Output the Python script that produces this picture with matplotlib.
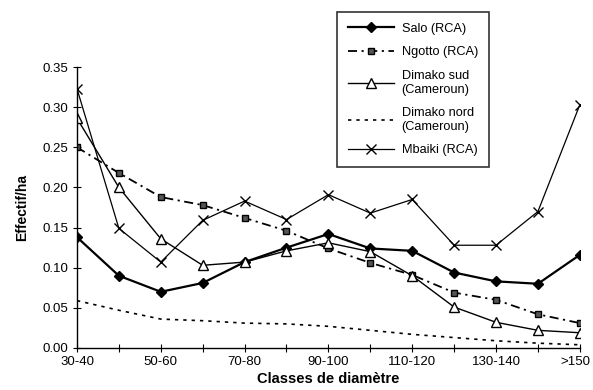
import numpy as np
import matplotlib.pyplot as plt
from matplotlib.transforms import ScaledTranslation

plt.rcParams['font.family'] = ['Liberation Sans', 'DejaVu Sans']

classes = ["30-40", "40-50", "50-60", "60-70", "70-80", "80-90", "90-100",
           "100-110", "110-120", "120-130", "130-140", "140-150", ">150"]
shown_labels = ["30-40", "", "50-60", "", "70-80", "", "90-100",
                "", "110-120", "", "130-140", "", ">150"]

salo = [0.138, 0.090, 0.070, 0.081, 0.107, 0.125, 0.142, 0.124, 0.121, 0.094, 0.083, 0.080, 0.116]
ngotto = [0.250, 0.218, 0.188, 0.178, 0.162, 0.146, 0.124, 0.106, 0.091, 0.069, 0.060, 0.042, 0.031]
dimako_sud = [0.286, 0.200, 0.136, 0.103, 0.107, 0.121, 0.131, 0.120, 0.090, 0.051, 0.032, 0.022, 0.019]
dimako_nord = [0.059, 0.047, 0.036, 0.034, 0.031, 0.030, 0.027, 0.022, 0.017, 0.013, 0.009, 0.006, 0.004]
mbaiki = [0.323, 0.149, 0.107, 0.159, 0.183, 0.160, 0.191, 0.168, 0.185, 0.128, 0.128, 0.170, 0.303]

x = np.arange(len(classes))

fig = plt.figure(figsize=(5.93, 3.90), dpi=100)
ax = fig.add_axes([0.1298, 0.1077, 0.848, 0.7205])

ax.plot(x, salo, color='black', lw=1.6, marker='D', ms=5, mfc='black', label='Salo (RCA)')
ax.plot(x, ngotto, color='black', lw=1.3, ls=(0, (5, 2.5, 1.2, 2.5)), marker='s', ms=5,
        mfc='#555555', mec='black', label='Ngotto (RCA)')
ax.plot(x, dimako_sud, color='black', lw=1.0, marker='^', ms=7, mfc='white',
        label='Dimako sud\n(Cameroun)')
ax.plot(x, dimako_nord, color='black', lw=1.2, ls=(0, (2, 3)), label='Dimako nord\n(Cameroun)')
ax.plot(x, mbaiki, color='black', lw=0.9, marker='x', ms=7, mew=1.0, label='Mbaiki (RCA)')

ax.set_xlim(0, 12)
ax.set_ylim(0, 0.35)
ax.set_xticks(x)
ax.set_xticklabels(shown_labels, fontsize=9.5)
ax.set_yticks(np.arange(0, 0.351, 0.05))
ax.set_yticklabels(["%.2f" % v for v in np.arange(0, 0.351, 0.05)], fontsize=9.5)
ax.tick_params(direction='inout', length=6, width=0.8, color='black', pad=3)
for s in ['top', 'right']:
    ax.spines[s].set_visible(False)
for s in ['left', 'bottom']:
    ax.spines[s].set_linewidth(1.0)

# last label sits against the right edge: keep it inside the figure
last = ax.get_xticklabels()[-1]
last.set_horizontalalignment('right')
last.set_transform(last.get_transform() + ScaledTranslation(11 / 100, 0, fig.dpi_scale_trans))

ax.set_ylabel("Effectif/ha", fontsize=10, fontweight='bold', labelpad=10)
ax.set_xlabel("Classes de diamètre", fontsize=10.5, fontweight='bold', labelpad=3)

leg = fig.legend(loc='upper left', bbox_to_anchor=(337 / 593, 1 - 12 / 390),
                 fontsize=9.2, frameon=True, fancybox=False, edgecolor='black',
                 handlelength=3.6, labelspacing=0.9, borderpad=0.85, handletextpad=0.6,
                 borderaxespad=0)
leg.get_frame().set_linewidth(1.2)

fig.savefig("out.png", dpi=100)
